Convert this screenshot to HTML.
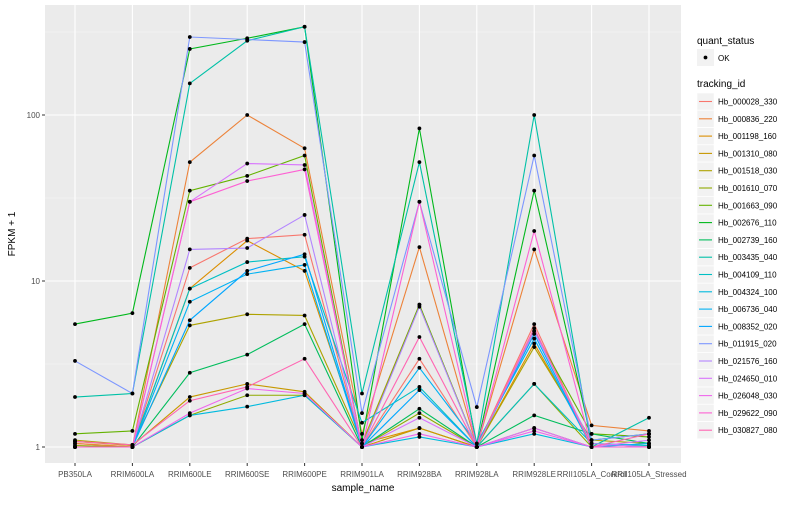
<!DOCTYPE html>
<html><head><meta charset="utf-8"><style>
body{margin:0;background:#fff;font-family:"Liberation Sans",sans-serif;}
svg text{font-family:"Liberation Sans",sans-serif;}
</style></head><body>
<svg id="chart" width="800" height="500" xmlns="http://www.w3.org/2000/svg">
<rect x="0" y="0" width="800" height="500" fill="#fff"/>
<rect x="45" y="5" width="636" height="458" fill="#EBEBEB"/>
<g id="grid"></g><g id="series"></g><g id="axes"></g><g id="legend"></g>
</svg>
<script>
const categories=["PB350LA","RRIM600LA","RRIM600LE","RRIM600SE","RRIM600PE","RRIM901LA","RRIM928BA","RRIM928LA","RRIM928LE","RRII105LA_Control","RRII105LA_Stressed"];
const trackingIds=["Hb_000028_330","Hb_000836_220","Hb_001198_160","Hb_001310_080","Hb_001518_030","Hb_001610_070","Hb_001663_090","Hb_002676_110","Hb_002739_160","Hb_003435_040","Hb_004109_110","Hb_004324_100","Hb_006736_040","Hb_008352_020","Hb_011915_020","Hb_021576_160","Hb_024650_010","Hb_026048_030","Hb_029622_090","Hb_030827_080"];
const colors=["#F8766D","#EC8239","#DB8E00","#C79800","#AEA200","#8FAA00","#64B200","#00B81B","#00BD5C","#00C1A7","#00BFC4","#00BADE","#00B2F3","#00A6FF","#7C96FF","#B385FF","#D874FD","#EF67EB","#FD61D3","#FF65B2"];
const s0=[1.05,1.0,12,18,19,1.0,3.4,1.0,5.5,1.0,1.0];
const s1=[1.05,1.0,52,100,63,1.2,16,1.0,15.5,1.35,1.25];
const s2=[1.0,1.0,9,17.5,11.5,1.05,1.3,1.0,4.2,1.05,1.0];
const s3=[1.08,1.02,2.0,2.4,2.15,1.0,1.3,1.0,1.3,1.0,1.0];
const s4=[1.1,1.03,5.4,6.3,6.2,1.05,7.2,1.0,4.0,1.1,1.05];
const s5=[1.02,1.0,1.55,2.05,2.05,1.0,1.6,1.0,2.4,1.0,1.0];
const s6=[1.2,1.25,35,43,57,1.0,7.2,1.0,5.0,1.2,1.15];
const s7=[5.5,6.4,250,290,340,1.1,83,1.0,35,1.1,1.2];
const s8=[1.0,1.0,2.8,3.6,5.5,1.0,1.7,1.0,1.55,1.2,1.05];
const s9=[2.0,2.1,155,280,340,2.1,52,1.05,100,1.0,1.5];
const s10=[1.0,1.0,9,13,14,1.4,2.3,1.0,2.4,1.05,1.02];
const s11=[1.0,1.0,1.55,1.75,2.05,1.0,1.15,1.0,1.2,1.0,1.0];
const s12=[1.0,1.0,7.5,11,12.5,1.0,3.0,1.05,4.5,1.0,1.05];
const s13=[1.0,1.0,5.8,11.5,14.5,1.0,2.2,1.0,4.8,1.0,1.0];
const s14=[3.3,2.1,295,285,275,1.6,30,1.74,57,1.1,1.2];
const s15=[1.0,1.0,15.5,15.8,25,1.0,7.0,1.0,5.0,1.05,1.0];
const s16=[1.0,1.0,30,51,50,1.0,1.5,1.0,1.3,1.0,1.1];
const s17=[1.0,1.0,1.6,2.25,2.1,1.0,1.2,1.0,1.25,1.0,1.0];
const s18=[1.0,1.0,30,40,47,1.0,30,1.0,20,1.0,1.0];
const s19=[1.08,1.03,1.9,2.3,3.4,1.0,4.6,1.0,5.2,1.0,1.2];
const seriesValues=[s0,s1,s2,s3,s4,s5,s6,s7,s8,s9,s10,s11,s12,s13,s14,s15,s16,s17,s18,s19];
const yTicks=[1,10,100];
const yTickLabels=["1","10","100"];
const NS="http://www.w3.org/2000/svg";
const X0=75,DX=57.4,Y1=447,DEC=166;
function xs(i){return X0+i*DX;}
function ys(v){return Y1-Math.log10(v)*DEC;}
function mk(tag,attrs,parent){const e=document.createElementNS(NS,tag);for(const k in attrs)e.setAttribute(k,attrs[k]);parent.appendChild(e);return e;}
const grid=document.getElementById('grid');
for(let k=-0.5;k<=2.5;k+=1){const y=ys(Math.pow(10,k));if(y>5&&y<463){const l=mk('line',{x1:45,x2:681,y1:y,y2:y,stroke:'#F5F5F5','stroke-width':0.6},grid);}}
yTicks.forEach(t=>{const l=mk('line',{x1:45,x2:681,y1:ys(t),y2:ys(t),stroke:'#fff','stroke-width':1.1},grid);});
categories.forEach((c,i)=>{const l=mk('line',{x1:xs(i),x2:xs(i),y1:5,y2:463,stroke:'#fff','stroke-width':1.1},grid);});
const sg=document.getElementById('series');
seriesValues.forEach((vals,si)=>{
  const g=mk('g',{},sg);
  
  
  const pts=vals.map((v,i)=>xs(i)+','+ys(v)).join(' ');
  const pl=mk('polyline',{points:pts,fill:'none',stroke:colors[si],'stroke-width':1.1},g);
  
  
});
seriesValues.forEach((vals,si)=>{
  vals.forEach((v,i)=>{const c=mk('circle',{cx:xs(i),cy:ys(v),r:1.9,fill:'#000'},sg);
  
  });
});
const ax=document.getElementById('axes');
yTicks.forEach((t,i)=>{mk('line',{x1:42,x2:45,y1:ys(t),y2:ys(t),stroke:'#333','stroke-width':1},ax);
  const tx=mk('text',{x:40,y:ys(t)+3,'text-anchor':'end','font-size':8,fill:'#4D4D4D'},ax);tx.textContent=yTickLabels[i];
  
  });
categories.forEach((c,i)=>{mk('line',{x1:xs(i),x2:xs(i),y1:463,y2:466,stroke:'#333','stroke-width':1},ax);
  const tx=mk('text',{x:xs(i),y:477,'text-anchor':'middle','font-size':8,fill:'#4D4D4D'},ax);tx.textContent=c;
  
  });
const xt=mk('text',{x:363,y:491,'text-anchor':'middle','font-size':10,fill:'#000'},ax);xt.textContent='sample_name';


const yt=mk('text',{x:15,y:234,'text-anchor':'middle','font-size':10,fill:'#000',transform:'rotate(-90 15 234)'},ax);yt.textContent='FPKM + 1';


const lg=document.getElementById('legend');
const t1=mk('text',{x:697,y:44,'font-size':10,fill:'#000'},lg);t1.textContent='quant_status';


mk('rect',{x:697,y:49,width:17,height:17,fill:'#F2F2F2'},lg);
mk('circle',{cx:705.5,cy:57.5,r:1.9,fill:'#000'},lg);
const ok=mk('text',{x:718,y:61,'font-size':8,fill:'#000'},lg);ok.textContent='OK';


const t2=mk('text',{x:697,y:87,'font-size':10,fill:'#000'},lg);t2.textContent='tracking_id';


trackingIds.forEach((id,i)=>{const y=93+i*17.3;
  const g=mk('g',{},lg);
  
  
  mk('rect',{x:697,y:y,width:17,height:17,fill:'#F2F2F2',stroke:'#fff','stroke-width':0.5},g);
  mk('line',{x1:699,x2:712,y1:y+8.5,y2:y+8.5,stroke:colors[i],'stroke-width':1.1},g);
  const tx=mk('text',{x:718,y:y+11.5,'font-size':8,fill:'#000'},g);tx.textContent=id;});
</script>
</body></html>
